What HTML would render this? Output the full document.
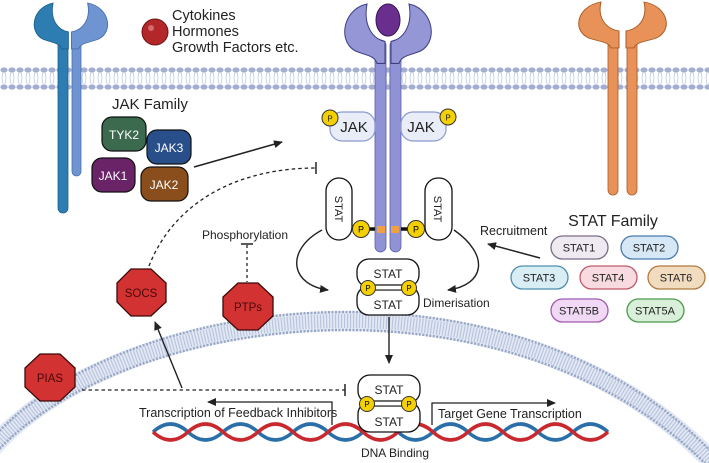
<!DOCTYPE html>
<html><head><meta charset="utf-8"><style>
html,body{margin:0;padding:0;background:#fff;}
svg{display:block;font-family:"Liberation Sans",sans-serif;}
</style></head><body>
<svg width="709" height="463" viewBox="0 0 709 463" xmlns="http://www.w3.org/2000/svg">
<defs>
<pattern id="mem" x="0" y="66" width="8" height="24" patternUnits="userSpaceOnUse">
<ellipse cx="4" cy="4" rx="3.6" ry="2.6" fill="#a4aed0"/>
<ellipse cx="4" cy="21" rx="3.6" ry="2.6" fill="#a4aed0"/>
<path d="M3 6 L2 12 L3 18 M5 6 L6 12 L5 18" stroke="#c3cae2" stroke-width="0.8" fill="none"/>
</pattern>
<marker id="ah" markerWidth="10" markerHeight="10" refX="8" refY="5" orient="auto" markerUnits="userSpaceOnUse">
<path d="M0,1 L9,5 L0,9 Z" fill="#222"/></marker>
<path id="head" d="M-14,0 C-40,5 -44,38 -22,44 C-12,47 -6,48 -4,54 L4,54 L4,34 C-8,32 -18,20 -14,0 Z"/>
</defs>

<rect x="0" y="66" width="709" height="24" fill="url(#mem)"/>

<!-- nucleus membrane -->
<path d="M-10,450 C120,300 520,250 720,470" fill="none" stroke="#e3e9f4" stroke-width="20"/>
<path d="M-10,450 C120,300 520,250 720,470" fill="none" stroke="#b9c5de" stroke-width="14" stroke-dasharray="1.2 1.8"/>
<path d="M-10,441 C120,291 520,241 720,461" fill="none" stroke="#97a6c4" stroke-width="2.5" stroke-dasharray="2 1.5"/>
<path d="M-10,459 C120,309 520,259 720,479" fill="none" stroke="#97a6c4" stroke-width="2.5" stroke-dasharray="2 1.5"/>

<!-- left receptor -->
<rect x="58" y="40" width="10" height="173" rx="5" fill="#2d7db2" stroke="#1d5f8c" stroke-width="0.8"/>
<rect x="72" y="40" width="9" height="136" rx="4.5" fill="#6f94d2" stroke="#4a6fae" stroke-width="0.8"/>
<use href="#head" transform="translate(65,3) scale(0.85,0.85)" fill="#2d7db2" stroke="#1d5f8c"/>
<use href="#head" transform="translate(75,3) scale(-0.9,0.85)" fill="#6f94d2" stroke="#4a6fae"/>

<circle cx="155" cy="32" r="13" fill="#b3272b" stroke="#6e1214" stroke-width="1"/>
<circle cx="151" cy="28" r="3" fill="#d46a6a"/>
<text x="172" y="20" font-size="14.5" fill="#222">Cytokines</text>
<text x="172" y="36" font-size="14.5" fill="#222">Hormones</text>
<text x="172" y="52" font-size="14.5" fill="#222">Growth Factors etc.</text>

<!-- center receptor -->
<rect x="375" y="40" width="11" height="212" rx="5.5" fill="#8f92d4" stroke="#5d5fa8" stroke-width="0.8"/>
<rect x="390" y="40" width="11" height="212" rx="5.5" fill="#8f92d4" stroke="#5d5fa8" stroke-width="0.8"/>
<use href="#head" transform="translate(381,4) scale(1.0,1.1)" fill="#9496d6" stroke="#3c3e86" stroke-width="1"/>
<use href="#head" transform="translate(395,4) scale(-1.0,1.1)" fill="#9496d6" stroke="#3c3e86" stroke-width="1"/>
<ellipse cx="388" cy="20" rx="12" ry="16" fill="#6a2e8e" stroke="#3d1458"/>

<!-- orange receptor -->
<rect x="608" y="35" width="10" height="160" rx="5" fill="#e8925a" stroke="#a85a22" stroke-width="0.8"/>
<rect x="627" y="35" width="10" height="160" rx="5" fill="#e8925a" stroke="#a85a22" stroke-width="0.8"/>
<use href="#head" transform="translate(615,2) scale(1.0,0.85)" fill="#e8925a" stroke="#a85a22"/>
<use href="#head" transform="translate(630,2) scale(-1.0,0.85)" fill="#e8925a" stroke="#a85a22"/>

<!-- JAK family -->
<text x="112" y="109" font-size="15" fill="#222">JAK Family</text>
<rect x="102" y="117" width="44" height="34" rx="10" fill="#3b6a4f" stroke="#111" stroke-width="1.2"/>
<text x="124" y="139" font-size="12" fill="#fff" text-anchor="middle">TYK2</text>
<rect x="147" y="130" width="44" height="34" rx="10" fill="#284f8a" stroke="#111" stroke-width="1.2"/>
<text x="169" y="152" font-size="12" fill="#fff" text-anchor="middle">JAK3</text>
<rect x="92" y="158" width="43" height="34" rx="10" fill="#6b2368" stroke="#111" stroke-width="1.2"/>
<text x="113" y="180" font-size="12" fill="#fff" text-anchor="middle">JAK1</text>
<rect x="141" y="167" width="47" height="34" rx="10" fill="#8a4d1c" stroke="#111" stroke-width="1.2"/>
<text x="164" y="189" font-size="12" fill="#fff" text-anchor="middle">JAK2</text>
<line x1="194" y1="167" x2="282" y2="142" stroke="#222" stroke-width="1.5" marker-end="url(#ah)"/>

<rect x="330" y="112" width="45" height="29" rx="12" fill="#e9edf8" stroke="#8d9ad0" stroke-width="1.2"/>
<text x="354" y="132" font-size="15" fill="#222" text-anchor="middle">JAK</text>
<circle cx="330" cy="118" r="8" fill="#f5d000" stroke="#333"/>
<text x="330" y="121.5" font-size="8" text-anchor="middle" fill="#222">P</text>
<rect x="401" y="112" width="45" height="29" rx="12" fill="#e9edf8" stroke="#8d9ad0" stroke-width="1.2"/>
<text x="421" y="132" font-size="15" fill="#222" text-anchor="middle">JAK</text>
<circle cx="448" cy="117" r="8" fill="#f5d000" stroke="#333"/>
<text x="448" y="120.5" font-size="8" text-anchor="middle" fill="#222">P</text>

<path d="M149,266 C175,200 240,168 316,168" fill="none" stroke="#222" stroke-width="1.3" stroke-dasharray="3.5 3"/>
<line x1="316" y1="162" x2="316" y2="174" stroke="#222" stroke-width="1.5"/>

<line x1="362" y1="229" x2="375" y2="229" stroke="#111" stroke-width="3.5"/>
<line x1="401" y1="229" x2="416" y2="229" stroke="#111" stroke-width="3.5"/>
<rect x="377" y="226" width="8" height="7" fill="#f0a040"/>
<rect x="391" y="226" width="8" height="7" fill="#f0a040"/>
<rect x="326" y="178" width="26" height="62" rx="13" fill="#fff" stroke="#111" stroke-width="1.3"/>
<text transform="translate(335,209) rotate(90)" font-size="11" text-anchor="middle" fill="#222">STAT</text>
<rect x="425" y="178" width="27" height="62" rx="13" fill="#fff" stroke="#111" stroke-width="1.3"/>
<text transform="translate(434,209) rotate(90)" font-size="11" text-anchor="middle" fill="#222">STAT</text>
<circle cx="361" cy="229" r="8.5" fill="#f5d000" stroke="#333"/><text x="361" y="232.5" font-size="9" text-anchor="middle">P</text>
<circle cx="416" cy="229" r="8.5" fill="#f5d000" stroke="#333"/><text x="416" y="232.5" font-size="9" text-anchor="middle">P</text>

<path d="M322,230 C285,250 290,285 328,290" fill="none" stroke="#222" stroke-width="1.4" marker-end="url(#ah)"/>
<path d="M454,230 C490,255 485,285 448,290" fill="none" stroke="#222" stroke-width="1.4" marker-end="url(#ah)"/>

<!-- dimer 1 -->
<rect x="357" y="259" width="62" height="28" rx="12" fill="#fff" stroke="#111" stroke-width="1.3"/>
<rect x="357" y="286" width="62" height="29" rx="12" fill="#fff" stroke="#111" stroke-width="1.3"/>
<line x1="368" y1="285" x2="409" y2="285" stroke="#111" stroke-width="1.2"/>
<line x1="368" y1="290" x2="409" y2="290" stroke="#111" stroke-width="1.2"/>
<rect x="368" y="285.6" width="41" height="3.8" fill="#fff"/>
<text x="388" y="278" font-size="12" text-anchor="middle" fill="#222">STAT</text>
<text x="388" y="309" font-size="12" text-anchor="middle" fill="#222">STAT</text>
<circle cx="368" cy="288" r="7.5" fill="#f5d000" stroke="#333"/><text x="368" y="291" font-size="8" text-anchor="middle">P</text>
<circle cx="409" cy="288" r="7.5" fill="#f5d000" stroke="#333"/><text x="409" y="291" font-size="8" text-anchor="middle">P</text>
<text x="423" y="307" font-size="12" fill="#222">Dimerisation</text>

<line x1="389" y1="317" x2="389" y2="363" stroke="#222" stroke-width="1.4" marker-end="url(#ah)"/>

<!-- DNA (behind dimer 2) -->
<path d="M153,432 Q170.5,416 188,432 T223,432 T258,432 T293,432 T328,432 T363,432 T398,432 T433,432 T468,432 T503,432 T538,432 T573,432 T608,432" fill="none" stroke="#2a6fa8" stroke-width="3.5"/>
<path d="M153,432 Q170.5,448 188,432 T223,432 T258,432 T293,432 T328,432 T363,432 T398,432 T433,432 T468,432 T503,432 T538,432 T573,432 T608,432" fill="none" stroke="#c8282e" stroke-width="3.5"/>
<text x="395" y="457" font-size="12" text-anchor="middle" fill="#222">DNA Binding</text>

<!-- dimer 2 -->
<rect x="358" y="375" width="62" height="28" rx="12" fill="#fff" stroke="#111" stroke-width="1.3"/>
<rect x="358" y="402" width="62" height="30" rx="12" fill="#fff" stroke="#111" stroke-width="1.3"/>
<line x1="367" y1="401" x2="409" y2="401" stroke="#111" stroke-width="1.2"/>
<line x1="367" y1="406" x2="409" y2="406" stroke="#111" stroke-width="1.2"/>
<rect x="367" y="401.6" width="42" height="3.8" fill="#fff"/>
<text x="389" y="394" font-size="12" text-anchor="middle" fill="#222">STAT</text>
<text x="389" y="426" font-size="12" text-anchor="middle" fill="#222">STAT</text>
<circle cx="367" cy="404" r="7.5" fill="#f5d000" stroke="#333"/><text x="367" y="407" font-size="8" text-anchor="middle">P</text>
<circle cx="409" cy="404" r="7.5" fill="#f5d000" stroke="#333"/><text x="409" y="407" font-size="8" text-anchor="middle">P</text>

<path d="M332,425 L332,402 L208,402" fill="none" stroke="#222" stroke-width="1.3" marker-end="url(#ah)"/>
<text x="139" y="417" font-size="12.5" fill="#222">Transcription of Feedback Inhibitors</text>
<path d="M432,425 L432,403 L555,403" fill="none" stroke="#222" stroke-width="1.3" marker-end="url(#ah)"/>
<text x="438" y="418" font-size="12.5" fill="#222">Target Gene Transcription</text>

<line x1="82" y1="390" x2="345" y2="390" stroke="#222" stroke-width="1.3" stroke-dasharray="3.5 3"/>
<line x1="345" y1="384" x2="345" y2="396" stroke="#222" stroke-width="1.5"/>
<line x1="182" y1="388" x2="155" y2="322" stroke="#222" stroke-width="1.4" marker-end="url(#ah)"/>

<text x="245" y="239" font-size="12" text-anchor="middle" fill="#222">Phosphorylation</text>
<line x1="241" y1="244" x2="253" y2="244" stroke="#222" stroke-width="1.5"/>
<line x1="247" y1="245" x2="247" y2="282" stroke="#222" stroke-width="1.3" stroke-dasharray="3 3"/>

<g fill="#d23232" stroke="#3a0a0a" stroke-width="1.3">
<polygon points="131,269 151,269 166,283 166,302 151,316 131,316 117,302 117,283"/>
<polygon points="238,283 258,283 273,297 273,316 258,330 238,330 223,316 223,297"/>
<polygon points="40,354 60,354 75,368 75,387 60,401 40,401 25,387 25,368"/>
</g>
<text x="141" y="297" font-size="11.5" text-anchor="middle" fill="#4a0808">SOCS</text>
<text x="248" y="311" font-size="11.5" text-anchor="middle" fill="#4a0808">PTPs</text>
<text x="50" y="382" font-size="11.5" text-anchor="middle" fill="#4a0808">PIAS</text>

<text x="480" y="235" font-size="12.5" fill="#222">Recruitment</text>
<line x1="540" y1="258" x2="488" y2="244" stroke="#222" stroke-width="1.5" marker-end="url(#ah)"/>
<text x="613" y="226" font-size="16" text-anchor="middle" fill="#222">STAT Family</text>
<g font-size="11" text-anchor="middle" fill="#222" stroke-width="1.3">
<rect x="551" y="236" width="57" height="23" rx="11.5" fill="#efeaf2" stroke="#7a6d85"/><text x="579" y="251.5">STAT1</text>
<rect x="621" y="236" width="57" height="23" rx="11.5" fill="#d6e8f5" stroke="#4a7ab0"/><text x="649" y="251.5">STAT2</text>
<rect x="511" y="266" width="57" height="23" rx="11.5" fill="#d9edf5" stroke="#4b8fb0"/><text x="539" y="281.5">STAT3</text>
<rect x="580" y="266" width="57" height="23" rx="11.5" fill="#f7dbe0" stroke="#c05a6a"/><text x="608" y="281.5">STAT4</text>
<rect x="648" y="266" width="57" height="23" rx="11.5" fill="#f2dcc0" stroke="#b07a40"/><text x="676" y="281.5">STAT6</text>
<rect x="551" y="299" width="57" height="23" rx="11.5" fill="#f1d9f5" stroke="#a05ab0"/><text x="579" y="314.5">STAT5B</text>
<rect x="627" y="299" width="57" height="23" rx="11.5" fill="#d9efd9" stroke="#4a9a4a"/><text x="655" y="314.5">STAT5A</text>
</g>
</svg>
</body></html>
